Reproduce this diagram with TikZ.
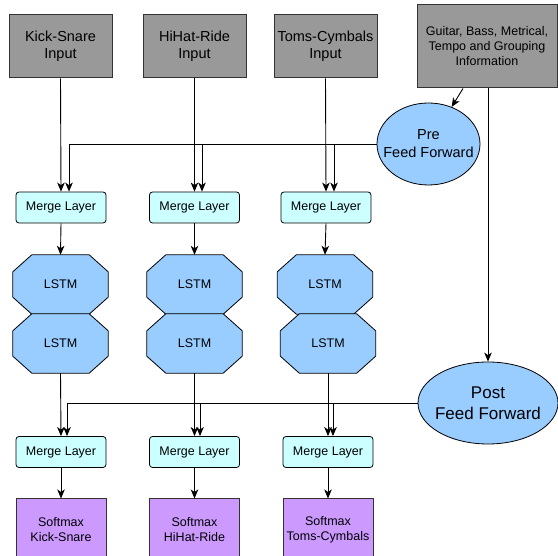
\documentclass[tikz,border=0pt]{standalone}
\usepackage{fontspec}
\setmainfont{Liberation Sans}
\usetikzlibrary{shapes.geometric,arrows.meta,calc,backgrounds}
\definecolor{ingray}{HTML}{999999}
\definecolor{mergec}{HTML}{CCFFFF}
\definecolor{bluec}{HTML}{99CCFF}
\definecolor{purplec}{HTML}{CC99FF}
\definecolor{edgec}{HTML}{333333}
\tikzset{
  inbox/.style={draw=edgec,fill=ingray,line width=1pt,minimum width=103pt,minimum height=63pt,inner sep=0pt,align=center,font=\fontsize{14.5}{17.5}\selectfont},
  infobox/.style={draw=edgec,fill=ingray,line width=1pt,minimum width=140pt,minimum height=83pt,inner sep=0pt,align=center,font=\fontsize{12.5}{15}\selectfont},
  mergebox/.style={draw=black,fill=mergec,line width=0.8pt,rounded corners=3pt,minimum width=90pt,minimum height=31pt,inner sep=0pt,font=\fontsize{12.5}{15}\selectfont},
  lstmbox/.style={minimum width=95pt,minimum height=59pt,inner sep=0pt,font=\fontsize{12.5}{15}\selectfont},
  octshape/.style={draw=black,fill=bluec,line width=0.8pt},
  smbox/.style={draw=edgec,fill=purplec,line width=1pt,minimum width=90pt,minimum height=62pt,inner sep=0pt,align=center,font=\fontsize{12.5}{15}\selectfont},
  ffell/.style={ellipse,draw=black,fill=bluec,line width=0.8pt,inner sep=0pt},
  arr/.style={-{Stealth[length=9pt,width=7.5pt,inset=2.5pt]},line width=0.9pt,black},
  ln/.style={line width=0.9pt,black}
}
\newcommand{\octagonfor}[1]{%
  \begin{scope}[on background layer]
  \draw[octshape] ($(#1.north west)+(19,0)$) -- ($(#1.north east)+(-19,0)$) -- ($(#1.north east)+(0,17)$) -- ($(#1.south east)+(0,-17)$) -- ($(#1.south east)+(-19,0)$) -- ($(#1.south west)+(19,0)$) -- ($(#1.south west)+(0,-17)$) -- ($(#1.north west)+(0,17)$) -- cycle;
  \end{scope}}
\begin{document}
\begin{tikzpicture}[x=1pt,y=-1pt]
\useasboundingbox (0,0) rectangle (558,556);
% inputs
\node[inbox] (ks) at (60.5,46.5) {Kick-Snare\\Input};
\node[inbox] (hh) at (194.5,46.5) {HiHat-Ride\\Input};
\node[inbox] (tc) at (325.5,46.5) {Toms-Cymbals\\Input};
\node[infobox] (gt) at (487,46.5) {Guitar, Bass, Metrical,\\Tempo and Grouping\\Information};
% feed forwards
\node[ffell,minimum width=103pt,minimum height=82pt,label={[align=center,inner sep=0pt,font=\fontsize{14.5}{18}\selectfont]center:Pre\\Feed Forward}] (pre) at (428.5,144) {};
\node[ffell,minimum width=140pt,minimum height=82pt,label={[align=center,inner sep=0pt,font=\fontsize{17}{20.5}\selectfont]center:Post\\Feed Forward}] (post) at (488,403) {};
% first merge layers
\node[mergebox] (ma) at (61,207.5) {Merge Layer};
\node[mergebox] (mb) at (194.5,207.5) {Merge Layer};
\node[mergebox] (mc) at (326,207.5) {Merge Layer};
% LSTMs
\node[lstmbox] (la1) at (60.5,284.5) {LSTM};
\node[lstmbox] (la2) at (60.5,343.5) {LSTM};
\node[lstmbox] (lb1) at (194.5,284.5) {LSTM};
\node[lstmbox] (lb2) at (194.5,343.5) {LSTM};
\node[lstmbox] (lc1) at (325,284.5) {LSTM};
\node[lstmbox] (lc2) at (328,343.5) {LSTM};
\octagonfor{la1}\octagonfor{la2}\octagonfor{lb1}\octagonfor{lb2}\octagonfor{lc1}\octagonfor{lc2}
% second merge layers
\node[mergebox] (na) at (61,452) {Merge Layer};
\node[mergebox] (nb) at (194.5,452) {Merge Layer};
\node[mergebox] (nc) at (328,452) {Merge Layer};
% softmax
\node[smbox] (sa) at (61,530) {Softmax\\Kick-Snare};
\node[smbox] (sb) at (194.5,530) {Softmax\\HiHat-Ride};
\node[smbox] (sc) at (328,530) {Softmax\\Toms-Cymbals};
% connectors
\draw[arr] (ks.south) -- (ma.north);
\draw[arr] (hh.south) -- (mb.north);
\draw[arr] (tc.south) -- (mc.north);
\draw[arr] ([xshift=-24pt]gt.south) -- (pre.58);
\draw[arr] (pre.west) -| ([xshift=8pt]ma.north);
\draw[arr] (pre.west) -| ([xshift=7.5pt]mb.north);
\draw[arr] (pre.west) -| ([xshift=8pt]mc.north);
\draw[arr] (ma.south) -- (la1.north);
\draw[arr] (mb.south) -- (lb1.north);
\draw[arr] (mc.south) -- (lc1.north);
\draw[arr] ([xshift=1pt]gt.south) -- (post.north);
\draw[arr] (la2.south) -- (na.north);
\draw[arr] (lb2.south) -- (nb.north);
\draw[arr] (lc2.south) -- (nc.north);
\draw[arr] (post.west) -| ([xshift=6pt]na.north);
\draw[arr] (post.west) -| ([xshift=5.5pt]nb.north);
\draw[arr] (post.west) -| ([xshift=5pt]nc.north);
\draw[arr] (na.south) -- (sa.north);
\draw[arr] (nb.south) -- (sb.north);
\draw[arr] (nc.south) -- (sc.north);
\end{tikzpicture}
\end{document}
